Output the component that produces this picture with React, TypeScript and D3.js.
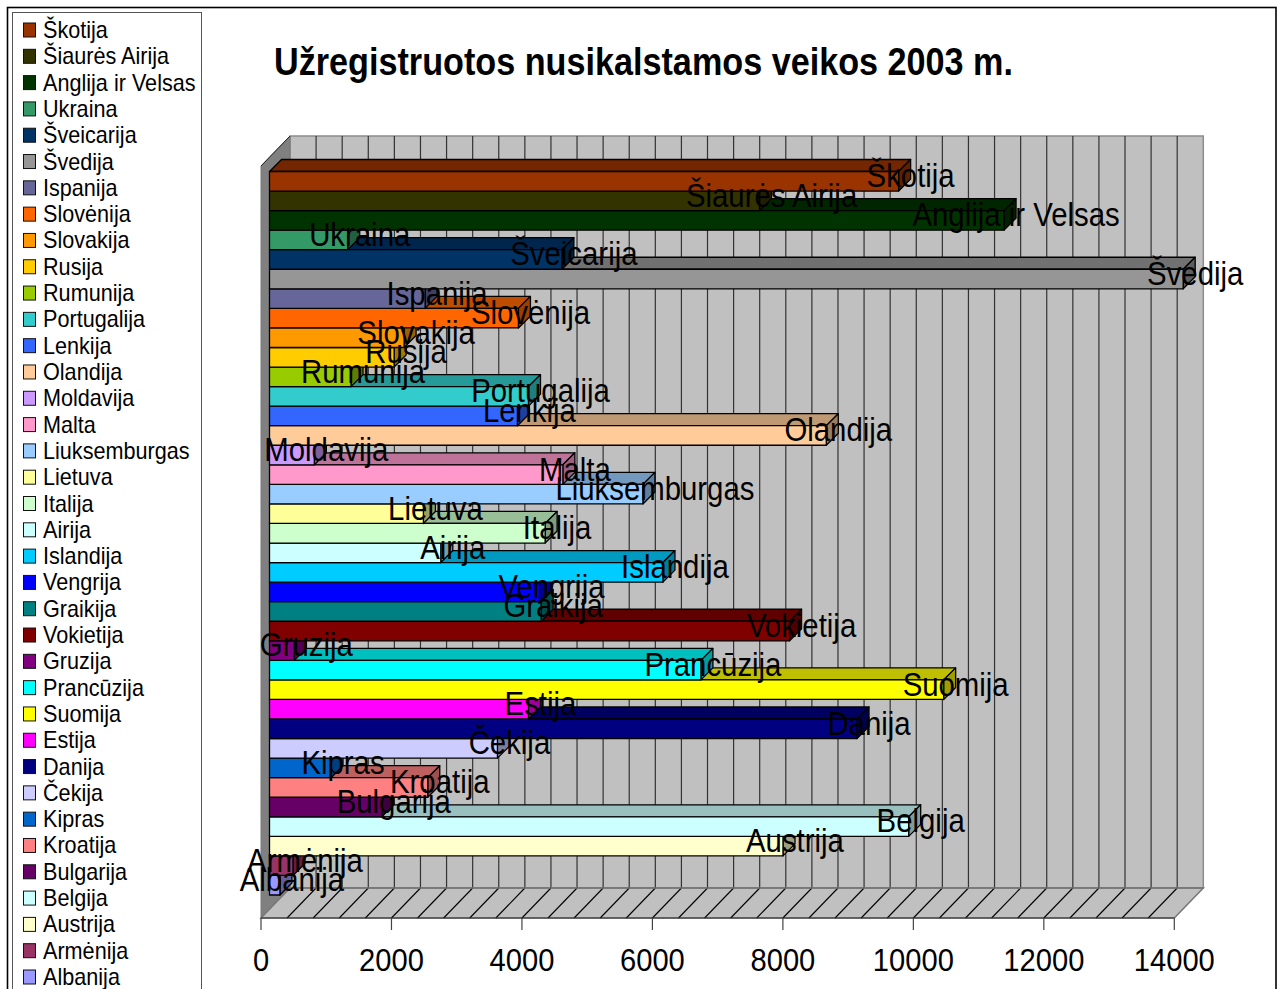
import React from "react";
import * as d3 from "d3";

const TITLE = "Užregistruotos nusikalstamos veikos 2003 m.";
const categories = ["Škotija","Šiaurės Airija","Anglija ir Velsas","Ukraina","Šveicarija","Švedija","Ispanija","Slovėnija","Slovakija","Rusija","Rumunija","Portugalija","Lenkija","Olandija","Moldavija","Malta","Liuksemburgas","Lietuva","Italija","Airija","Islandija","Vengrija","Graikija","Vokietija","Gruzija","Prancūzija","Suomija","Estija","Danija","Čekija","Kipras","Kroatija","Bulgarija","Belgija","Austrija","Armėnija","Albanija"];
const values = [9644,7512,11260,1199,4482,14006,2385,3816,2063,1910,1250,3970,3800,8535,687,4497,5724,2359,4225,2626,6031,4138,4164,7972,380,6613,10334,3970,9006,3494,943,2426,1721,9798,7871,360,160];
const colors = ["#993300","#333300","#003300","#339966","#003366","#969696","#666699","#FF6600","#FF9900","#FFCC00","#99CC00","#33CCCC","#3366FF","#FFCC99","#CC99FF","#FF99CC","#99CCFF","#FFFF99","#CCFFCC","#CCFFFF","#00CCFF","#0000FF","#008080","#800000","#800080","#00FFFF","#FFFF00","#FF00FF","#000080","#CCCCFF","#0066CC","#FF8080","#660066","#CCFFFF","#FFFFCC","#993366","#9999FF"];
const axisTicks = [0,2000,4000,6000,8000,10000,12000,14000];
const gridStep = 400;

const FONT = "'Liberation Sans', Arial, sans-serif";
const floorY = 918, depthX = 29, depthY = 30, wallTop = 136;
const x = d3.scaleLinear().domain([0, 14000]).range([261, 1174.3]);
const barOffset = 8.5, barDepth = 12;
const y = d3.scaleBand<number>().domain(d3.range(categories.length)).range([171.5, 895]);
const legendY = d3.scalePoint<number>().domain(d3.range(categories.length)).range([30, 977]);

const shade = (c: string, k: number) => {
  const r = d3.rgb(c);
  return d3.rgb(r.r * k, r.g * k, r.b * k).formatHex();
};
const pts = (p: number[][]) => p.map((a) => a.join(",")).join(" ");

function SText({ px, py, size, sx, anchor = "start", weight = "normal", children }: any) {
  return (
    <text transform={`translate(${px},${py}) scale(${sx},1)`} fontSize={size} fontFamily={FONT} fontWeight={weight} textAnchor={anchor} fill="#000">
      {children}
    </text>
  );
}

export default function App() {
  const grid = d3.range(0, 14001, gridStep);
  const x0 = x(0), x1 = x(14000);
  const order = d3.range(categories.length).reverse();
  return (
    <svg width={1278} height={989} style={{ position: "absolute", left: 0, top: 0, display: "block", background: "#fff" }}>
      <rect x={7.5} y={7.5} width={1268.5} height={1000} fill="#fff" stroke="#000" strokeWidth={1.6} />
      <rect x={12.5} y={12.5} width={189} height={1000} fill="#fff" stroke="#555" strokeWidth={1} />
      {categories.map((c, i) => (
        <g key={c}>
          <rect x={23.5} y={legendY(i)! - 7} width={12} height={14} fill={colors[i]} stroke="#111" strokeWidth={1} />
          <SText px={43} py={legendY(i)! + 8} size={23} sx={0.94}>{c}</SText>
        </g>
      ))}
      <text x={274} y={75} fontSize={38} fontWeight="bold" fontFamily={FONT} textLength={739} lengthAdjust="spacingAndGlyphs">{TITLE}</text>

      {/* walls and floor */}
      <rect x={x0 + depthX} y={wallTop} width={x1 - x0} height={floorY - depthY - wallTop} fill="#C0C0C0" stroke="#8c8c8c" strokeWidth={1.5} />
      <polygon points={pts([[x0, wallTop + depthY], [x0 + depthX, wallTop], [x0 + depthX, floorY - depthY], [x0, floorY]])} fill="#808080" stroke="#777" strokeWidth={1} />
      <line x1={x0} y1={wallTop + depthY} x2={x0 + depthX} y2={wallTop} stroke="#222" strokeWidth={1} />
      <polygon points={pts([[x0, floorY], [x1, floorY], [x1 + depthX, floorY - depthY], [x0 + depthX, floorY - depthY]])} fill="#C0C0C0" stroke="#777" strokeWidth={1.5} />
      {grid.slice(1, -1).map((g) => (
        <g key={g}>
          <line x1={x(g) + depthX} y1={wallTop} x2={x(g) + depthX} y2={floorY - depthY} stroke="#333" strokeWidth={1.2} />
          <line x1={x(g) + depthX} y1={floorY - depthY} x2={x(g)} y2={floorY} stroke="#000" strokeWidth={1.1} />
        </g>
      ))}
      <line x1={x0 + depthX} y1={floorY - depthY} x2={x1 + depthX} y2={floorY - depthY} stroke="#777" strokeWidth={1.5} />
      <line x1={x0} y1={floorY} x2={x1} y2={floorY} stroke="#333" strokeWidth={1.2} />
      {axisTicks.map((t) => (
        <g key={t}>
          <line x1={x(t)} y1={floorY} x2={x(t)} y2={930} stroke="#444" strokeWidth={1.2} />
          <SText px={x(t)} py={971} size={31} sx={0.94} anchor="middle">{t}</SText>
        </g>
      ))}

      {/* bars: nearest to the floor first, so upper bars overlap them */}
      {order.map((i) => {
        const top = y(i)!, h = y.bandwidth(), L = x0 + barOffset, R = x(values[i]) + barOffset, d = barDepth;
        return (
          <g key={categories[i]} stroke="#000" strokeWidth={1.3} strokeLinejoin="round">
            <polygon points={pts([[L, top], [L + d, top - d], [R + d, top - d], [R, top]])} fill={shade(colors[i], 0.75)} />
            <polygon points={pts([[R, top], [R + d, top - d], [R + d, top + h - d], [R, top + h]])} fill={shade(colors[i], 0.62)} />
            <rect x={L} y={top} width={R - L} height={h} fill={colors[i]} />
          </g>
        );
      })}

      {/* data labels */}
      {categories.map((c, i) => (
        <SText key={c} px={x(values[i]) + barOffset + barDepth} py={y(i)! + 15.7} size={33} sx={0.89} anchor="middle">{c}</SText>
      ))}
    </svg>
  );
}
